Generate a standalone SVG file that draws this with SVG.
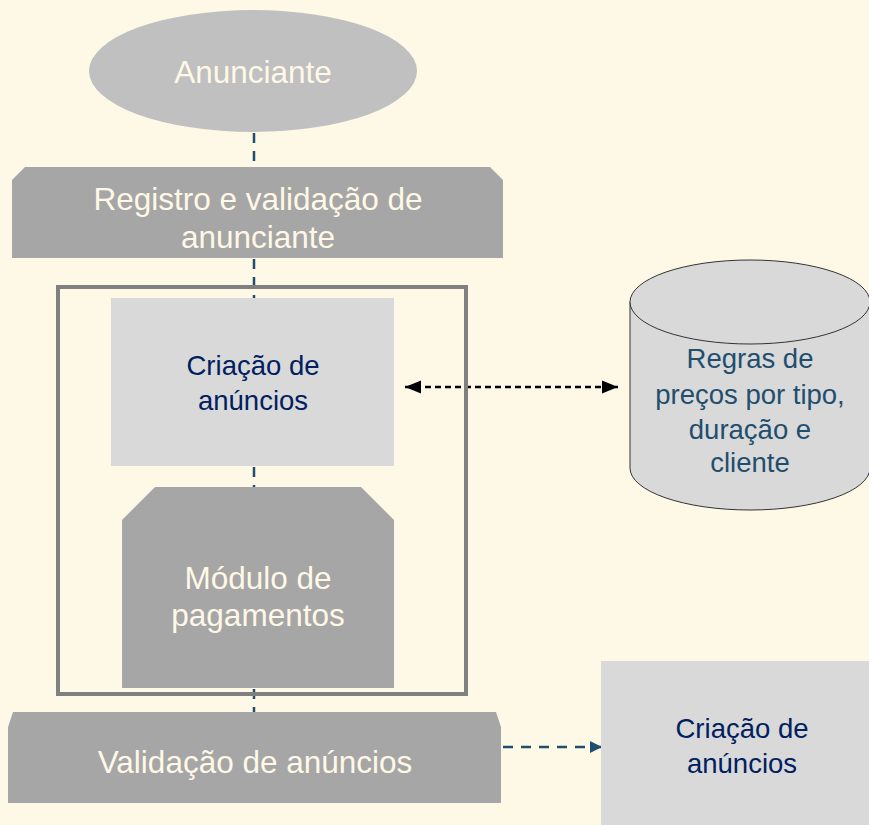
<svg xmlns="http://www.w3.org/2000/svg" width="869" height="825" viewBox="0 0 869 825">
<defs>
<style>
.t{font-family:"Liberation Sans",Arial,sans-serif;text-anchor:middle}
.lt{fill:#FFF8E6;font-size:31.5px}
.dk{fill:#002060;font-size:27.5px}
.tl{fill:#1F4E6E;font-size:27.5px}
.dash{stroke:#1F4E6E;stroke-width:2.5;stroke-dasharray:10 8;fill:none}
</style>
<marker id="ah" viewBox="0 0 10 10" refX="10" refY="5" markerWidth="12" markerHeight="12" markerUnits="userSpaceOnUse" orient="auto"><path d="M0,0 L10,5 L0,10 z" fill="#1F4E6E"/></marker>
<marker id="bk" viewBox="0 0 10 10" refX="10" refY="5" markerWidth="16" markerHeight="16" markerUnits="userSpaceOnUse" orient="auto-start-reverse"><path d="M0,1 L10,5 L0,9 z" fill="#000"/></marker>
</defs>
<rect width="869" height="825" fill="#FEF8E7"/>
<g id="connectors">
<line class="dash" x1="254" y1="133" x2="254" y2="167"/>
<line class="dash" x1="254" y1="259" x2="254" y2="298"/>
<line class="dash" x1="254" y1="467" x2="254" y2="487"/>
<line class="dash" x1="254" y1="689" x2="254" y2="712"/>
<line class="dash" x1="503" y1="747" x2="602" y2="747" marker-end="url(#ah)"/>
<line x1="405" y1="387" x2="618" y2="387" stroke="#000" stroke-width="2.5" stroke-dasharray="6 4" marker-start="url(#bk)" marker-end="url(#bk)"/>
</g>
<g id="frame"><rect x="58" y="287" width="408" height="407" fill="none" stroke="#808080" stroke-width="4"/></g>
<g id="anunciante">
<ellipse cx="253" cy="71" rx="164" ry="61" fill="#C0C0C0"/>
<text class="t lt" x="253" y="83">Anunciante</text>
</g>
<g id="registro">
<path d="M25,167 L490,167 L503,180 L503,258 L12,258 L12,180 Z" fill="#A6A6A6"/>
<text class="t lt" x="258" y="210">Registro e validação de</text>
<text class="t lt" x="258" y="248">anunciante</text>
</g>
<g id="criacao">
<rect x="111" y="298" width="283" height="168" fill="#D9D9D9"/>
<text class="t dk" x="253" y="375">Criação de</text>
<text class="t dk" x="253" y="410">anúncios</text>
</g>
<g id="modulo">
<path d="M155,487 L361,487 L394,520 L394,688 L122,688 L122,520 Z" fill="#A6A6A6"/>
<text class="t lt" x="258" y="589">Módulo de</text>
<text class="t lt" x="258" y="626">pagamentos</text>
</g>
<g id="validacao">
<path d="M13,712 L496,712 L501,727 L501,803 L8,803 L8,727 Z" fill="#A6A6A6"/>
<text class="t lt" x="255" y="773">Validação de anúncios</text>
</g>
<g id="criacao2">
<rect x="601" y="661" width="268" height="164" fill="#D9D9D9"/>
<text class="t dk" x="742" y="738">Criação de</text>
<text class="t dk" x="742" y="773">anúncios</text>
</g>
<g id="regras">
<path d="M630,302 L630,468 A120,42 0 0 0 870,468 L870,302" fill="#D9D9D9" stroke="#333" stroke-width="1"/>
<ellipse cx="750" cy="302" rx="120" ry="42" fill="#D9D9D9" stroke="#333" stroke-width="1"/>
<text class="t tl" x="750" y="368">Regras de</text>
<text class="t tl" x="750" y="404">preços por tipo,</text>
<text class="t tl" x="750" y="439">duração e</text>
<text class="t tl" x="750" y="472">cliente</text>
</g>
</svg>
